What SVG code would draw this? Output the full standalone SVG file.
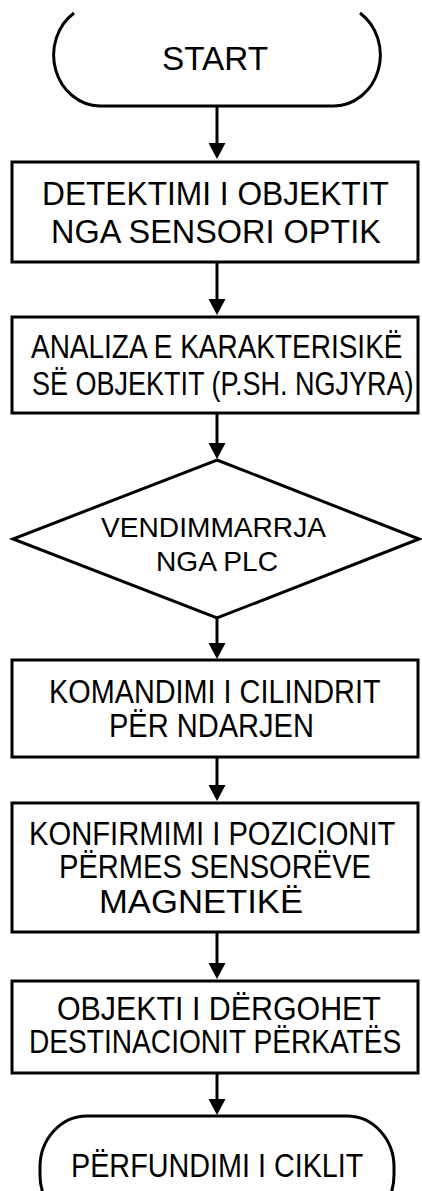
<svg xmlns="http://www.w3.org/2000/svg" width="422" height="1191" viewBox="0 0 422 1191">
<style>
.shape{fill:#fff;stroke:#000;stroke-width:3}
.conn{stroke:#000;stroke-width:3;fill:none}
text{font-family:"Liberation Sans",Arial,sans-serif;fill:#000}
.t{font-size:32.5px}
.d{font-size:28px}
</style>
<defs>
<marker id="ah" markerUnits="userSpaceOnUse" viewBox="0 0 16 17" markerWidth="16" markerHeight="17" refX="4" refY="8.5" orient="auto">
<path d="M0,0 L16,8.5 L0,17 z" fill="#000"/>
</marker>
</defs>
<rect width="422" height="1191" fill="#fff"/>
<g id="connectors">
<line class="conn" x1="217" y1="107" x2="217" y2="147" marker-end="url(#ah)"/>
<line class="conn" x1="217" y1="262" x2="217" y2="303" marker-end="url(#ah)"/>
<line class="conn" x1="217" y1="413" x2="217" y2="447" marker-end="url(#ah)"/>
<line class="conn" x1="217" y1="618" x2="217" y2="647" marker-end="url(#ah)"/>
<line class="conn" x1="217" y1="757" x2="217" y2="789" marker-end="url(#ah)"/>
<line class="conn" x1="217" y1="932" x2="217" y2="967" marker-end="url(#ah)"/>
<line class="conn" x1="217" y1="1073" x2="217" y2="1103" marker-end="url(#ah)"/>
</g>
<g id="start">
<path class="shape" d="M74,13 A47,51 0 0 0 100,106 L334,106 A47,51 0 0 0 360,13"/>
<text x="162" y="70" style="font-size:33px" textLength="106" lengthAdjust="spacingAndGlyphs">START</text>
</g>
<g id="detektimi">
<rect class="shape" x="12" y="162" width="406" height="100"/>
<text class="t" transform="translate(42,205) scale(0.85,1)" textLength="408" lengthAdjust="spacingAndGlyphs">DETEKTIMI I OBJEKTIT</text>
<text class="t" transform="translate(51,243) scale(0.85,1)" textLength="388" lengthAdjust="spacingAndGlyphs">NGA SENSORI OPTIK</text>
</g>
<g id="analiza">
<rect class="shape" x="12" y="317" width="406" height="96"/>
<text class="t" transform="translate(31,358) scale(0.85,1)" textLength="437" lengthAdjust="spacingAndGlyphs">ANALIZA E KARAKTERISIKË</text>
<text class="t" transform="translate(32,395) scale(0.8,1)" textLength="477" lengthAdjust="spacingAndGlyphs">SË OBJEKTIT (P.SH. NGJYRA)</text>
</g>
<g id="vendimmarrja">
<polygon class="shape" points="217,460 419,539 217,618 13,539"/>
<text class="d" x="101" y="537" textLength="225" lengthAdjust="spacingAndGlyphs">VENDIMMARRJA</text>
<text class="d" x="156" y="571" textLength="122" lengthAdjust="spacingAndGlyphs">NGA PLC</text>
</g>
<g id="komandimi">
<rect class="shape" x="12" y="660" width="406" height="97"/>
<text class="t" transform="translate(49,703) scale(0.85,1)" textLength="390" lengthAdjust="spacingAndGlyphs">KOMANDIMI I CILINDRIT</text>
<text class="t" transform="translate(109,737) scale(0.85,1)" textLength="241" lengthAdjust="spacingAndGlyphs">PËR NDARJEN</text>
</g>
<g id="konfirmimi">
<rect class="shape" x="12" y="803" width="406" height="129"/>
<text class="t" transform="translate(29,845) scale(0.85,1)" textLength="431" lengthAdjust="spacingAndGlyphs">KONFIRMIMI I POZICIONIT</text>
<text class="t" transform="translate(59,878) scale(0.85,1)" textLength="367" lengthAdjust="spacingAndGlyphs">PËRMES SENSORËVE</text>
<text class="t" transform="translate(99,913) scale(0.85,1)" textLength="240" lengthAdjust="spacingAndGlyphs">MAGNETIKË</text>
</g>
<g id="objekti">
<rect class="shape" x="12" y="981" width="406" height="92"/>
<text class="t" transform="translate(57,1020) scale(0.85,1)" textLength="381" lengthAdjust="spacingAndGlyphs">OBJEKTI I DËRGOHET</text>
<text class="t" transform="translate(29,1053) scale(0.85,1)" textLength="438" lengthAdjust="spacingAndGlyphs">DESTINACIONIT PËRKATËS</text>
</g>
<g id="perfundimi">
<rect class="shape" x="40" y="1116" width="354" height="110" rx="47" ry="51"/>
<text class="t" transform="translate(71,1177) scale(0.85,1)" textLength="344" lengthAdjust="spacingAndGlyphs">PËRFUNDIMI I CIKLIT</text>
</g>
</svg>
